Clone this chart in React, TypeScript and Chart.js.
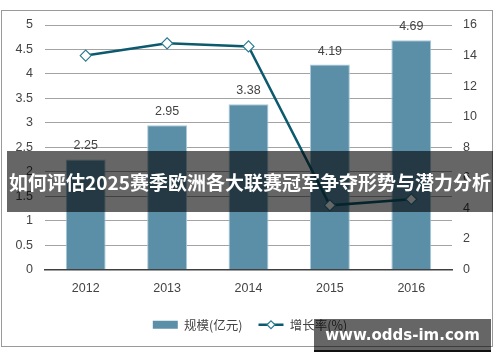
import React, { useEffect, useRef } from 'react';
import { Chart, registerables } from 'chart.js';

Chart.register(...registerables);

const categories = ['2012', '2013', '2014', '2015', '2016'];
const scaleValues = [2.25, 2.95, 3.38, 4.19, 4.69];
const growthValues = [14.0, 14.8, 14.6, 4.2, 4.6];
const leftTicks = [0, 0.5, 1, 1.5, 2, 2.5, 3, 3.5, 4, 4.5, 5];
const rightTicks = [0, 2, 4, 6, 8, 10, 12, 14, 16];
const seriesNames = ['规模(亿元)', '增长率(%)'];
const bannerText = '如何评估2025赛季欧洲各大联赛冠军争夺形势与潜力分析';
const watermarkText = 'www.odds-im.com';

const BAR_COLOR = '#5b8fa8';
const LINE_COLOR = '#0d5a6e';
const MARKER_BORDER = '#2b7b92';
const TEXT_COLOR = '#444444';
const FONT_FAMILY = "'Liberation Sans', 'Noto Sans CJK SC', sans-serif";

const overlayPlugin = {
  id: 'overlayPlugin',
  afterDatasetsDraw(chart: any) {
    const ctx = chart.ctx;
    const meta = chart.getDatasetMeta(0);
    ctx.save();
    ctx.font = `12.5px ${FONT_FAMILY}`;
    ctx.fillStyle = TEXT_COLOR;
    ctx.textAlign = 'center';
    ctx.textBaseline = 'middle';
    meta.data.forEach((bar: any, i: number) => {
      ctx.fillText(scaleValues[i].toFixed(2), bar.x, bar.y - 13.5);
    });
    ctx.restore();
  },
  afterDraw(chart: any) {
    const legend = chart.legend;
    if (!legend || !legend.legendHitBoxes || legend.legendHitBoxes.length < 2) return;
    const hb = legend.legendHitBoxes[1];
    const cx = hb.left + 12.5;
    const cy = hb.top + 6.25;
    const r = 4;
    const ctx = chart.ctx;
    ctx.save();
    ctx.beginPath();
    ctx.moveTo(cx - r, cy);
    ctx.lineTo(cx, cy - r);
    ctx.lineTo(cx + r, cy);
    ctx.lineTo(cx, cy + r);
    ctx.closePath();
    ctx.fillStyle = '#ffffff';
    ctx.fill();
    ctx.lineWidth = 1.2;
    ctx.strokeStyle = MARKER_BORDER;
    ctx.stroke();
    ctx.restore();
  },
};

function ChartBox() {
  const ref = useRef<HTMLCanvasElement | null>(null);
  useEffect(() => {
    if (!ref.current) return;
    const tickFont = { family: FONT_FAMILY, size: 12.5 };
    const chart = new Chart(ref.current, {
      type: 'bar',
      data: {
        labels: categories,
        datasets: [
          {
            type: 'bar',
            label: seriesNames[0],
            data: scaleValues,
            backgroundColor: BAR_COLOR,
            borderColor: '#a9c9d8',
            borderWidth: 1,
            barPercentage: 0.49,
            categoryPercentage: 1,
            yAxisID: 'y',
            order: 1,
          } as any,
          {
            type: 'line',
            label: seriesNames[1],
            data: growthValues,
            borderColor: LINE_COLOR,
            borderWidth: 2.5,
            pointStyle: 'rectRot',
            pointRadius: 5.5,
            pointBackgroundColor: '#ffffff',
            pointBorderColor: MARKER_BORDER,
            pointBorderWidth: 1.2,
            tension: 0,
            yAxisID: 'y1',
            order: 0,
          } as any,
        ],
      },
      options: {
        responsive: false,
        animation: false,
        layout: { padding: { top: 25, bottom: 21, left: 0, right: 0 } },
        scales: {
          x: {
            grid: { display: false, drawTicks: false },
            border: { display: true, color: '#404040', width: 1.5 },
            ticks: { color: TEXT_COLOR, font: tickFont, padding: 12 },
            afterFit: (s: any) => { s.height = 33; },
          },
          y: {
            position: 'left',
            min: 0,
            max: 5,
            afterBuildTicks: (s: any) => { s.ticks = leftTicks.map((v) => ({ value: v })); },
            grid: { color: '#a3a3a3', lineWidth: 1, drawTicks: false },
            border: { display: false },
            ticks: { color: TEXT_COLOR, font: tickFont, padding: 12, callback: (v: any) => String(v) },
            afterFit: (s: any) => { s.width = 45; },
          },
          y1: {
            position: 'right',
            min: 0,
            max: 16,
            afterBuildTicks: (s: any) => { s.ticks = rightTicks.map((v) => ({ value: v })); },
            grid: { display: false, drawTicks: false },
            border: { display: false },
            ticks: { color: TEXT_COLOR, font: tickFont, padding: 11, callback: (v: any) => String(v) },
            afterFit: (s: any) => { s.width = 48; },
          },
        },
        plugins: {
          tooltip: { enabled: false },
          legend: {
            position: 'bottom',
            labels: {
              usePointStyle: true,
              pointStyleWidth: 25,
              boxHeight: 8,
              padding: 16,
              color: TEXT_COLOR,
              font: { family: "'Noto Sans CJK SC', sans-serif", size: 12.5 },
              generateLabels: () => [
                {
                  text: seriesNames[0],
                  fillStyle: BAR_COLOR,
                  strokeStyle: BAR_COLOR,
                  lineWidth: 0,
                  pointStyle: 'rect',
                  hidden: false,
                  datasetIndex: 0,
                  fontColor: TEXT_COLOR,
                },
                {
                  text: seriesNames[1],
                  fillStyle: 'rgba(0,0,0,0)',
                  strokeStyle: LINE_COLOR,
                  lineWidth: 2.5,
                  pointStyle: 'line',
                  hidden: false,
                  datasetIndex: 1,
                  fontColor: TEXT_COLOR,
                },
              ] as any,
            },
          },
        },
      } as any,
      plugins: [overlayPlugin],
    });
    return () => chart.destroy();
  }, []);
  return (
    <canvas
      ref={ref}
      width={500}
      height={362}
      style={{ position: 'absolute', left: 0, top: 0, width: 500, height: 362 }}
    />
  );
}

export default function App() {
  return (
    <div style={{ position: 'absolute', left: 0, top: 0, width: 500, height: 362, background: '#ffffff', overflow: 'hidden' }}>
      <div
        style={{
          position: 'absolute',
          left: 1,
          top: 10,
          width: 490,
          height: 335,
          border: '1px solid #9a9a9a',
        }}
      />
      <ChartBox />
      <div
        style={{
          position: 'absolute',
          left: 7,
          top: 151,
          width: 486,
          height: 61,
          background: 'rgba(0,0,0,0.6)',
          color: '#ffffff',
          display: 'flex',
          alignItems: 'center',
          justifyContent: 'center',
          fontFamily: "'Noto Sans CJK SC', sans-serif",
          fontWeight: 700,
          fontSize: 19,
          whiteSpace: 'nowrap',
        }}
      >
        {bannerText}
      </div>
      <div
        style={{
          position: 'absolute',
          left: 314,
          top: 319,
          width: 177,
          height: 31,
          background: 'rgba(0,0,0,0.6)',
          borderBottom: '2px solid #111111',
          color: '#ffffff',
          display: 'flex',
          alignItems: 'center',
          justifyContent: 'center',
          fontFamily: "'DejaVu Sans', sans-serif",
          fontWeight: 700,
          fontSize: 15,
          whiteSpace: 'nowrap',
        }}
      >
        {watermarkText}
      </div>
    </div>
  );
}
